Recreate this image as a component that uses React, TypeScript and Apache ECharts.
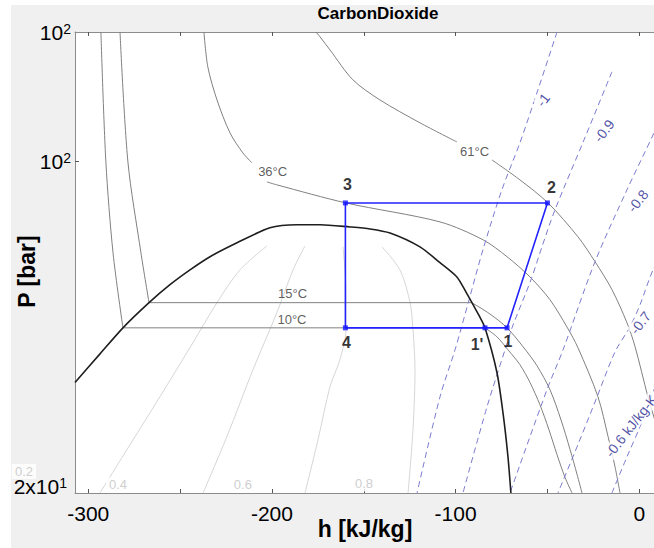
import React, { useEffect, useRef } from "react";
import * as echarts from "echarts";

type Pt = [number, number];

// ---- axis ranges & ticks ----
const hMin = -307.2;
const hMax = 22.7;
const pMin = 20;
const pMax = 187.6;
const hTicks = [-300, -250, -200, -150, -100, -50, 0];
const hLabels = [-300, -200, -100, 0];
const pTicks = [100];
const pLabels = [20.01, 100, 187.5];

// ---- saturation dome (h kJ/kg, P bar) ----
const saturationDome: Pt[] = [
  [-307.2, 34.2], [-293.6, 39.3], [-281.1, 44.6], [-266.9, 50.4], [-255.5, 55.0],
  [-244.6, 59.1], [-233.7, 63.0], [-219.0, 67.4], [-201.1, 72.5], [-186.4, 73.6],
  [-173.8, 73.6], [-157.5, 72.8], [-146.6, 72.1], [-135.7, 70.7], [-119.4, 66.1],
  [-108.5, 61.2], [-99.3, 57.1], [-94.4, 53.1], [-90.5, 49.9], [-87.2, 47.3],
  [-84.0, 44.6], [-77.5, 35.9], [-74.2, 29.5], [-71.5, 23.85], [-69.9, 20.0],
];

// ---- isotherms ----
const iso10Liquid: Pt[] = [[-293.1, 187.6], [-290.4, 99.9], [-286.5, 64.2], [-281.1, 44.6]];
const iso10Mix: Pt[] = [[-281.1, 44.6], [-84.0, 44.6]];
const iso10Vapor: Pt[] = [
  [-84.0, 44.6], [-77.5, 42.7], [-71.5, 40.1], [-65.0, 37.3], [-59.5, 34.2],
  [-54.1, 30.7], [-49.2, 27.2], [-44.8, 24.1], [-40.5, 21.6], [-36.6, 20.0],
];
const iso15Liquid: Pt[] = [[-282.7, 187.6], [-278.4, 99.9], [-271.3, 64.2], [-266.9, 50.4]];
const iso15Mix: Pt[] = [[-266.9, 50.4], [-91.2, 50.4]];
const iso15Vapor: Pt[] = [
  [-91.2, 50.4], [-81.3, 47.7], [-72.0, 44.6], [-63.3, 40.7], [-55.7, 37.1],
  [-48.6, 33.0], [-42.6, 28.5], [-37.7, 24.7], [-33.9, 21.9], [-31.2, 20.0],
];
const iso36Upper: Pt[] = [
  [-237.0, 187.6], [-234.9, 158.4], [-229.9, 134.9], [-222.8, 114.9], [-215.8, 104.3], [-210.9, 99.4],
];
const iso36Lower: Pt[] = [
  [-202.7, 90.6], [-197.3, 89.3], [-159.7, 81.8], [-108.5, 74.6], [-85.1, 68.4],
  [-72.0, 63.0], [-59.5, 57.1], [-48.6, 51.1], [-39.4, 44.8], [-33.4, 40.5],
  [-22.5, 31.9], [-17.0, 26.3], [-13.2, 22.7], [-10.5, 20.0],
];
const iso61Upper: Pt[] = [
  [-176.0, 187.6], [-173.8, 183.2], [-168.4, 172.0], [-155.9, 148.7], [-141.2, 134.9],
  [-119.4, 120.7], [-99.3, 110.0],
];
const iso61Lower: Pt[] = [
  [-80.2, 100.8], [-65.0, 91.5], [-49.7, 81.8], [-33.4, 69.4], [-24.1, 61.5],
  [-14.9, 53.7], [-6.7, 45.7], [-2.3, 40.7], [4.7, 31.9], [11.3, 25.9], [15.6, 20.0],
];

// ---- vapour quality lines ----
const quality02: Pt[] = [[-293.6, 20.0], [-278.9, 24.7], [-261.0, 31.9], [-243.0, 41.5], [-229.9, 50.4], [-217.4, 59.1], [-202.7, 66.4]];
const quality04: Pt[] = [[-237.5, 20.0], [-224.5, 26.3], [-210.3, 36.4], [-197.3, 48.0], [-188.5, 59.1], [-182.0, 66.4]];
const quality06: Pt[] = [[-182.0, 20.0], [-174.9, 25.9], [-168.4, 33.5], [-163.0, 38.2], [-159.7, 44.2], [-159.7, 53.7], [-161.3, 66.1]];
const quality08: Pt[] = [[-125.9, 20.0], [-123.2, 27.2], [-122.1, 36.4], [-123.2, 44.2], [-124.8, 50.4], [-130.3, 59.1], [-140.1, 66.1]];

// ---- isentropes (kJ/kg-K) ----
const entropyM10: Pt[] = [[-44.8, 187.6], [-55.2, 141.6], [-65.0, 109.5], [-74.8, 87.2], [-85.1, 65.2], [-92.2, 51.9], [-100.3, 40.1], [-108.5, 31.9], [-121.0, 20.0]];
const entropyM09: Pt[] = [[-14.9, 154.6], [-30.1, 111.1], [-45.9, 79.1], [-53.0, 66.1], [-59.0, 56.3], [-69.3, 44.6], [-73.1, 40.1], [-82.9, 30.4], [-96.0, 20.0]];
const entropyM08: Pt[] = [[12.3, 125.4], [8.0, 114.9], [-6.7, 87.2], [-24.1, 61.5], [-41.5, 40.1], [-50.3, 33.0], [-70.4, 20.0]];
const entropyM07: Pt[] = [[13.4, 63.6], [8.0, 59.7], [0.4, 49.9], [-5.1, 44.8], [-13.2, 39.7], [-23.0, 31.9], [-33.4, 25.3], [-44.3, 20.0]];
const entropyM06: Pt[] = [[14.5, 38.6], [8.0, 33.0], [0.4, 27.6], [-6.7, 23.85], [-14.9, 20.0]];

// ---- refrigeration cycle ----
const cyclePath: Pt[] = [[-160, 44.6], [-84, 44.6], [-72, 44.6], [-50, 81.8], [-160, 81.8], [-160, 44.6]];
const cyclePointNames = ["1", "1'", "2", "3", "4"];
const cyclePointValues: Pt[] = [[-72, 44.6], [-84, 44.6], [-50, 81.8], [-160, 81.8], [-160, 44.6]];

// ---- annotation texts ----
const isothermLabelNames = ["36°C", "61°C", "15°C", "10°C"];
const isothermLabelValues: Pt[] = [[-199.6, 95.1], [-89.7, 104.8], [-188.8, 52.7], [-189.1, 46.4]];
const qualityLabelNames = ["0.2", "0.4", "0.6", "0.8"];
const qualityLabelValues: Pt[] = [[-335.0, 22.2], [-283.8, 20.8], [-215.8, 20.8], [-149.9, 20.9]];
const entropyLabelNames = ["-1", "-0.9", "-0.8", "-0.7", "-0.6 kJ/kg-K"];
const entropyLabelValues: Pt[] = [[-52.4, 134.9], [-19.2, 116.1], [-0.8, 82.6], [0.6, 45.7], [-4.5, 27.7]];

// label offsets (pixels) – styling only
const pointLabelOffsets: Record<string, [number, number]> = {
  "1": [1, 14],
  "1'": [-8, 17],
  "2": [4, -15],
  "3": [2, -18],
  "4": [1, 15],
};

const FONT = "'Liberation Sans', Arial, sans-serif";
const ISO_COLOR = "#808080";
const Q_COLOR = "#d6d6d6";
const S_COLOR = "#7b7bd0";

function lineSeries(data: Pt[], color: string, width: number, dashed = false, smooth: number | boolean = 0.3, z = 2) {
  return {
    type: "line",
    data,
    showSymbol: false,
    symbol: "none",
    smooth,
    silent: true,
    z,
    lineStyle: { color, width, type: dashed ? [6, 4] : "solid" },
  };
}

function labelSeries(names: string[], values: Pt[], label: any, z = 6) {
  return {
    type: "scatter",
    clip: false,
    silent: true,
    z,
    symbolSize: 1,
    itemStyle: { color: "rgba(0,0,0,0)" },
    data: names.map((n, i) => ({ name: n, value: values[i] })),
    label: { show: true, position: "inside", formatter: "{b}", fontFamily: FONT, ...label },
  };
}

export default function App() {
  const ref = useRef<HTMLDivElement>(null);

  useEffect(() => {
    document.body.style.margin = "0";
    if (!ref.current) return;
    const chart = echarts.init(ref.current, undefined, { renderer: "svg" });

    const xAxisBase = {
      type: "value",
      min: hMin,
      max: hMax,
      splitLine: { show: false },
      axisLine: { show: true, onZero: false, lineStyle: { color: "#8c8c8c", width: 1 } },
      axisTick: { show: true, inside: true, length: 4, customValues: hTicks, lineStyle: { color: "#555" } },
    };

    chart.setOption({
      animation: false,
      backgroundColor: "#f0f0f0",
      title: {
        text: "CarbonDioxide",
        left: "center",
        top: 0,
        padding: 0,
        textStyle: { fontSize: 17, fontWeight: "bold", color: "#000", fontFamily: FONT },
      },
      grid: {
        left: 64,
        top: 27,
        width: 606,
        height: 461,
        containLabel: false,
        outerBoundsMode: "none",
        show: true,
        backgroundColor: "#ffffff",
        borderWidth: 0,
      },
      xAxis: [
        {
          ...xAxisBase,
          position: "bottom",
          name: "h [kJ/kg]",
          nameLocation: "middle",
          nameGap: 24,
          nameMoveOverlap: false,
          nameTextStyle: { fontSize: 23, fontWeight: "bold", color: "#000", fontFamily: FONT, padding: [0, 26, 0, 0] },
          axisLabel: {
            show: true,
            customValues: hLabels,
            fontSize: 21,
            color: "#000",
            fontFamily: FONT,
            margin: 10,
          },
        },
        {
          ...xAxisBase,
          position: "top",
          axisLabel: { show: false },
        },
      ],
      yAxis: {
        type: "log",
        logBase: 10,
        min: pMin,
        max: pMax,
        splitLine: { show: false },
        minorTick: { show: false },
        axisLine: { show: true, onZero: false, lineStyle: { color: "#8c8c8c", width: 1 } },
        axisTick: { show: true, inside: true, length: 4, customValues: pTicks, lineStyle: { color: "#555" } },
        name: "P [bar]",
        nameLocation: "middle",
        nameGap: 37,
        nameMoveOverlap: false,
        nameTextStyle: { fontSize: 23, fontWeight: "bold", color: "#000", fontFamily: FONT, padding: [0, 18, 0, 0] },
        axisLabel: {
          show: true,
          customValues: pLabels,
          margin: 4,
          color: "#000",
          formatter: (v: number) =>
            v < 30 ? "{lo|2x10}{losup|1}{pad| }" : "{n|10}{sup|2}",
          rich: {
            n: { fontSize: 21, fontFamily: FONT, color: "#000" },
            sup: { fontSize: 14, fontFamily: FONT, color: "#000", verticalAlign: "top" },
            lo: { fontSize: 21, fontFamily: FONT, color: "#000", verticalAlign: "top" },
            losup: { fontSize: 14, fontFamily: FONT, color: "#000", verticalAlign: "top" },
            pad: { fontSize: 1, lineHeight: 34, width: 4 },
          },
        },
      },
      series: [
        lineSeries(quality02, Q_COLOR, 1, false, 0.3, 1),
        lineSeries(quality04, Q_COLOR, 1, false, 0.3, 1),
        lineSeries(quality06, Q_COLOR, 1, false, 0.3, 1),
        lineSeries(quality08, Q_COLOR, 1, false, 0.3, 1),

        lineSeries(iso10Liquid, ISO_COLOR, 1, false, 0.3),
        lineSeries(iso10Mix, ISO_COLOR, 1, false, false),
        lineSeries(iso10Vapor, ISO_COLOR, 1, false, 0.3),
        lineSeries(iso15Liquid, ISO_COLOR, 1, false, 0.3),
        lineSeries(iso15Mix, ISO_COLOR, 1, false, false),
        lineSeries(iso15Vapor, ISO_COLOR, 1, false, 0.3),
        lineSeries(iso36Upper, ISO_COLOR, 1, false, 0.3),
        lineSeries(iso36Lower, ISO_COLOR, 1, false, 0.3),
        lineSeries(iso61Upper, ISO_COLOR, 1, false, 0.3),
        lineSeries(iso61Lower, ISO_COLOR, 1, false, 0.3),

        lineSeries(entropyM10, S_COLOR, 1, true, 0.3, 3),
        lineSeries(entropyM09, S_COLOR, 1, true, 0.3, 3),
        lineSeries(entropyM08, S_COLOR, 1, true, 0.3, 3),
        lineSeries(entropyM07, S_COLOR, 1, true, 0.3, 3),
        lineSeries(entropyM06, S_COLOR, 1, true, 0.3, 3),

        lineSeries(saturationDome, "#1e1e1e", 1.6, false, 0.25, 4),

        {
          type: "line",
          data: cyclePath,
          showSymbol: false,
          symbol: "none",
          silent: true,
          z: 5,
          lineStyle: { color: "#2323ff", width: 1.6 },
        },
        {
          type: "scatter",
          silent: true,
          z: 6,
          symbol: "rect",
          symbolSize: 5,
          itemStyle: { color: "#1414ff" },
          data: cyclePointNames.map((n, i) => ({
            name: n,
            value: cyclePointValues[i],
            label: { offset: pointLabelOffsets[n] },
          })),
          label: {
            show: true,
            position: "inside",
            formatter: "{b}",
            fontFamily: FONT,
            fontSize: 16,
            fontWeight: "bold",
            color: "#000",
          },
        },

        labelSeries(isothermLabelNames, isothermLabelValues, { fontSize: 13, color: "#333" }),
        labelSeries(qualityLabelNames, qualityLabelValues, {
          fontSize: 13,
          color: "#c2c2c2",
          backgroundColor: "#ffffff",
          padding: [1, 3],
        }),
        labelSeries(entropyLabelNames, entropyLabelValues, {
          fontSize: 14,
          color: "#27278f",
          rotate: 52,
          backgroundColor: "#ffffff",
          padding: [0, 1],
        }),
      ],
    });

    return () => chart.dispose();
  }, []);

  return (
    <div style={{ width: 654, height: 548, overflow: "hidden", position: "relative", background: "#ffffff" }}>
      <div ref={ref} style={{ position: "absolute", left: 11, top: 5, width: 734, height: 543 }} />
    </div>
  );
}
